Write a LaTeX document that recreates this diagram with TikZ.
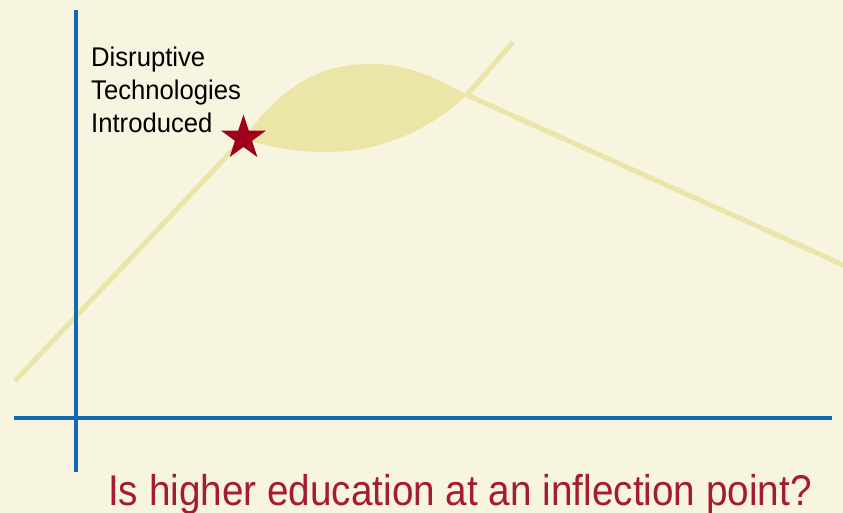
\documentclass[tikz,border=0pt]{standalone}
\usepackage{fontspec}
\setmainfont{Liberation Sans}
\usetikzlibrary{shapes.geometric}

\definecolor{paper}{RGB}{247,245,224}
\definecolor{axisblue}{RGB}{18,104,178}
\definecolor{curve}{RGB}{236,229,168}
\definecolor{starred}{RGB}{160,0,28}
\definecolor{titlered}{RGB}{165,28,45}

\begin{document}
\begin{tikzpicture}[x=1pt,y=-1pt]
  % canvas
  \fill[paper] (0,0) rectangle (843,513);
  \useasboundingbox (0,0) rectangle (843,513);
  \clip (0,0) rectangle (843,513);

  \coordinate (start) at (15,381);
  \coordinate (cross) at (467,95);
  \coordinate (upend) at (513,42);
  \coordinate (downend) at (850,268);

  % the bulge between the star and the crossing
  \fill[curve] (243,139) .. controls (290,75) and (330,64) .. (373,64)
    .. controls (410,64) and (440,80) .. (cross)
    .. controls (430,130) and (380,152) .. (327,152)
    .. controls (290,152) and (265,145) .. (243,139) -- cycle;

  % growth curves
  \draw[curve,line width=5pt] (start) -- (243,139);
  \draw[curve,line width=5pt] (cross) -- (upend);
  \draw[curve,line width=5pt] (cross) -- (downend);

  % axes
  \draw[axisblue,line width=4.5pt] (76,10) -- (76,472);
  \draw[axisblue,line width=4.5pt] (14,418) -- (832,418);

  \node[star,star points=5,star point ratio=2.6,minimum size=47pt,
        inner sep=0pt,fill=starred] (intro) at (243.5,138) {};

  \node[anchor=north west,inner sep=0pt,align=left,
        font=\fontsize{27}{33}\selectfont] (disrupt) at (91,47)
    {\scalebox{0.95}[1]{Disruptive}\\
     \scalebox{0.95}[1]{Technologies}\\
     \scalebox{0.95}[1]{Introduced}};

  \node[anchor=base west,inner sep=0pt,text=titlered,
        font=\fontsize{43}{50}\selectfont] (question) at (108,505)
    {\scalebox{0.9}[1]{Is higher education at an inflection point?}};
\end{tikzpicture}
\end{document}
